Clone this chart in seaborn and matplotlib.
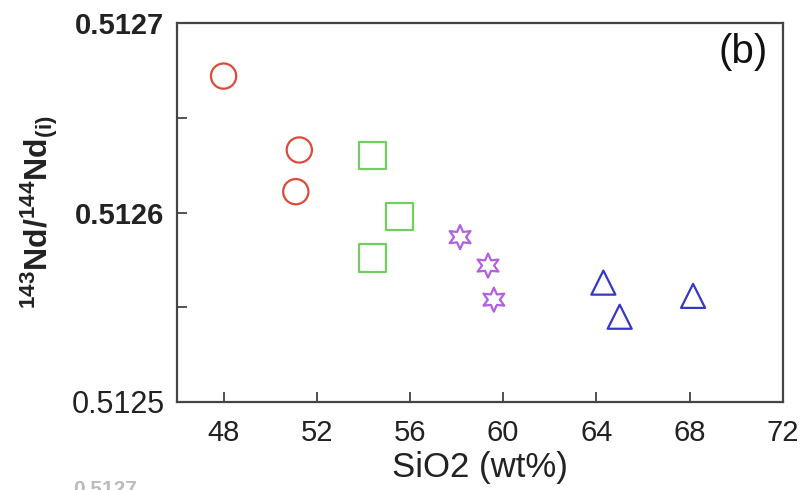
import matplotlib
matplotlib.use("Agg")
import matplotlib.pyplot as plt
import seaborn as sns
import pandas as pd
from matplotlib.ticker import MultipleLocator

sns.set_theme(style="white")
plt.rcParams['font.family'] = ['Liberation Sans', 'DejaVu Sans']
plt.rcParams['mathtext.fontset'] = 'custom'
plt.rcParams['mathtext.rm'] = 'Liberation Sans'
plt.rcParams['mathtext.bf'] = 'Liberation Sans:bold'

# data
group_names = ["gabbro", "diorite", "granodiorite", "granite"]
sio2_circle = [48.0, 51.25, 51.1]
nd_circle = [0.512672, 0.512633, 0.512611]
sio2_square = [54.4, 55.55, 54.4]
nd_square = [0.512630, 0.512598, 0.512576]
sio2_star = [58.15, 59.35, 59.6]
nd_star = [0.512587, 0.512572, 0.512554]
sio2_tri = [64.3, 65.0, 68.15]
nd_tri = [0.512563, 0.512545, 0.512556]
x_ticks = [48, 52, 56, 60, 64, 68, 72]
y_ticks = [0.5125, 0.5126, 0.5127]
y_ticklabels = ["0.5125", "0.5126", "0.5127"]

df = pd.DataFrame({
    "SiO2": sio2_circle + sio2_square + sio2_star + sio2_tri,
    "Nd": nd_circle + nd_square + nd_star + nd_tri,
    "group": [group_names[0]] * 3 + [group_names[1]] * 3 + [group_names[2]] * 3 + [group_names[3]] * 3,
})

styles = {
    "gabbro": dict(marker="o", color="#dd4a3c", s=330),
    "diorite": dict(marker="s", color="#6fcf5f", s=380),
    "granodiorite": dict(marker=(6, 1, 0), color="#b060e0", s=300),
    "granite": dict(marker="^", color="#3636c8", s=300),
}

fig = plt.figure(figsize=(8.07, 4.90), dpi=100)
ax = fig.add_axes([0.2193, 0.1796, 0.7507, 0.7734])

for g in group_names:
    st = styles[g]
    sub = df[df["group"] == g]
    sns.scatterplot(data=sub, x="SiO2", y="Nd", ax=ax, marker=st["marker"], s=st["s"],
                    facecolor="none", edgecolor=st["color"], linewidth=1.6, legend=False)

ax.set_xlim(46, 72)
ax.set_ylim(0.5125, 0.5127)
ax.set_xticks(x_ticks)
ax.set_xticklabels([str(t) for t in x_ticks], fontsize=21)
ax.set_yticks(y_ticks)
ax.set_yticklabels(y_ticklabels, fontsize=21, fontweight="bold")
lbl = ax.get_yticklabels()[0]
lbl.set_fontweight("normal")
lbl.set_fontsize(22)
ax.yaxis.set_minor_locator(MultipleLocator(0.00005))
ax.tick_params(axis="both", which="both", direction="in", length=7, width=1.2, colors="#333333",
               labelcolor="#222222")
ax.tick_params(axis="y", which="both", left=True, pad=9)
ax.tick_params(axis="x", bottom=True, pad=12)
for sp in ax.spines.values():
    sp.set_color("#444444")
    sp.set_linewidth(1.6)

ax.set_xlabel("SiO2 (wt%)", fontsize=25, color="#222222", labelpad=3)
ax.set_ylabel(r"$\mathbf{^{143}Nd/^{144}Nd_{(i)}}$", fontsize=23, color="#222222", labelpad=8)
ax.text(0.975, 0.975, "(b)", transform=ax.transAxes, fontsize=29, ha="right", va="top", color="#111111")

fig.text(0.09, -0.018, "0.5127", fontsize=15, fontweight="bold", color="#bbbbbb", va="bottom")

fig.savefig("out.png", dpi=100)
